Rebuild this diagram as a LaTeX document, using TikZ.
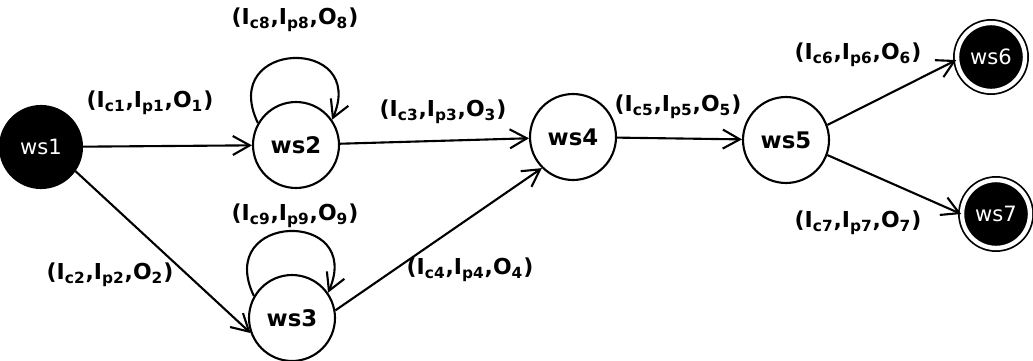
\documentclass[tikz,border=0pt]{standalone}
\usepackage{fontspec}
\setmainfont{DejaVu Sans}
\usetikzlibrary{arrows.meta}

\newcommand{\tlabel}[1]{(I\textsubscript{c#1},I\textsubscript{p#1},O\textsubscript{#1})}

\begin{document}
\begin{tikzpicture}[x=0.02cm, y=-0.02cm,
  ws/.style={circle, draw, line width=1.2pt, minimum size=1.72cm, inner sep=0pt, font=\fontsize{13}{15}\selectfont\bfseries},
  start/.style={circle, draw, fill=black, line width=1.2pt, minimum size=1.64cm, inner sep=0pt, text=white, font=\fontsize{12}{14}\selectfont},
  final/.style={circle, draw, fill=black, line width=1pt, double=white, double distance=2.5pt, minimum size=1.36cm, inner sep=0pt, text=white, font=\fontsize{12}{14}\selectfont},
  trans/.style={line width=1.2pt, -{Straight Barb[length=3.4mm,width=3.8mm]}},
  lbl/.style={font=\fontsize{12.5}{14}\selectfont\bfseries}]

  \useasboundingbox (0,0) rectangle (1033,361);

  % States
  \node[start] (ws1) at (41,147) {ws1};
  \node[ws] (ws2) at (296,145) {ws2};
  \node[ws] (ws3) at (292,318) {ws3};
  \node[ws] (ws4) at (573,137) {ws4};
  \node[ws] (ws5) at (786,140) {ws5};
  \node[final] (ws6) at (991,57) {ws6};
  \node[final] (ws7) at (996,214) {ws7};

  % Transitions
  \draw[trans] (ws1) -- (ws2);
  \draw[trans] (ws1.-35) -- (ws3.200);
  \draw[trans] (ws2) -- (ws4);
  \draw[trans] (ws3.10) -- (ws4.225);
  \draw[trans] (ws4) -- (ws5);
  \draw[trans] (ws5.20) -- (ws6.185);
  \draw[trans] (ws5.-20) -- (ws7.180);

  % Self loops
  \draw[trans] (ws2.150) .. controls +(-40,-84) and +(36,-84) .. (ws2.35);
  \draw[trans] (ws3.150) .. controls +(-40,-84) and +(36,-84) .. (ws3.35);

  % Labels
  \node[lbl] (l1) at (150,103) {\tlabel{1}};
  \node[lbl] (l2) at (110,275) {\tlabel{2}};
  \node[lbl] (l3) at (443,112) {\tlabel{3}};
  \node[lbl] (l4) at (470,270) {\tlabel{4}};
  \node[lbl] (l5) at (678,107) {\tlabel{5}};
  \node[lbl] (l6) at (858,55) {\tlabel{6}};
  \node[lbl] (l7) at (858,223) {\tlabel{7}};
  \node[lbl] (l8) at (295,20) {\tlabel{8}};
  \node[lbl] (l9) at (295,216) {\tlabel{9}};

\end{tikzpicture}
\end{document}
